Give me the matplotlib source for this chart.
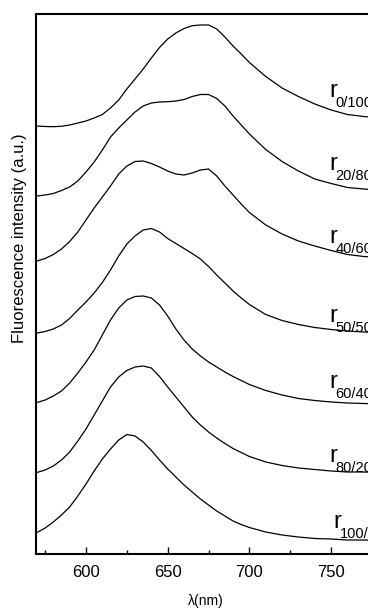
import matplotlib
matplotlib.use("Agg")
import matplotlib.pyplot as plt
from matplotlib.ticker import MultipleLocator

plt.rcParams['font.family'] = ['Liberation Sans', 'DejaVu Sans']

# wavelength grid (nm)
wavelength = [570, 575, 580, 585, 590, 595, 600, 605, 610, 615, 620, 625, 630,
              635, 640, 645, 650, 655, 660, 665, 670, 675, 680, 685, 690, 695,
              700, 710, 720, 730, 740, 750, 760, 770, 780]

# stacked spectra, a.u. (offsets included)
r_0_100 = [428, 427.5, 427.3, 427.7, 429, 431, 433, 436, 439.5, 446, 454, 465,
           475, 485, 496, 506.5, 515, 521, 525.5, 528.3, 529, 529, 525, 517,
           508, 500, 491.5, 477.5, 466, 457.5, 450, 444, 439.5, 437.5, 436]
r_20_80 = [358, 359, 360.5, 363.5, 367, 373, 382, 392, 404, 417, 426, 434, 442,
           448, 451, 452, 452.3, 453, 454.5, 457.5, 459.5, 459.5, 455.5, 448,
           438, 429, 420, 404.5, 392.5, 383, 375, 370.5, 366.5, 365, 364]
r_40_60 = [293, 295.5, 299.5, 305, 312.5, 322, 334, 346, 357, 368, 380, 388,
           392.5, 393, 390.5, 387, 383, 380, 379, 381, 384, 385, 378, 368, 359,
           350, 341.5, 329, 320, 313, 308, 303.5, 299.5, 297.5, 296.5]
r_50_50 = [221, 222.5, 225, 229, 235.5, 244, 252, 261, 271.5, 284, 298, 310,
           318, 324, 325.5, 322, 315.5, 310.5, 305.5, 300.5, 295, 287.5, 279,
           271, 263, 256, 249.5, 239.5, 233.5, 229.5, 226.5, 224.5, 223, 222,
           221.5]
r_60_40 = [151.5, 154, 158, 163, 171, 181, 192, 204, 219, 234, 246, 254, 257.5,
           258, 256, 249, 238, 225, 214, 205, 198, 192, 187, 182, 177.5, 173.5,
           169.5, 163.5, 159, 155.5, 153.5, 152, 151, 150.5, 150]
r_80_20 = [81.5, 84, 88, 94, 102, 113, 125, 139, 153, 167, 177, 183.5, 187, 188,
           186, 177.5, 167, 157, 147, 137, 129, 122, 116, 110.5, 105.5, 101.5,
           97.5, 92, 88.5, 86, 84.5, 83, 82, 82, 81.5]
r_100_0 = [21.5, 26, 32, 39, 47, 58, 70, 83, 95, 105, 114, 119.5, 118, 112,
           103.5, 94, 85, 77, 69, 62, 55, 49, 43, 38, 33, 29.5, 26.5, 22, 19,
           17, 15.5, 15, 14, 14, 13.5]

spectra = [r_0_100, r_20_80, r_40_60, r_50_50, r_60_40, r_80_20, r_100_0]
ratios = ['0/100', '20/80', '40/60', '50/50', '60/40', '80/20', '100/0']
label_x = [749, 749, 749, 749, 749, 749, 751.5]
label_y = [457, 384, 311, 232, 166, 92, 26]

fig = plt.figure(figsize=(3.68, 6.08), dpi=100)
ax = fig.add_axes([36 / 368, 54 / 608, 376.8 / 368, 540 / 608])

for s in spectra:
    ax.plot(wavelength, s, color='black', lw=0.9, solid_joinstyle='round')

# "r" with the ratio as a subscript
for i in range(len(ratios)):
    ax.text(label_x[i], label_y[i], 'r', fontsize=17, va='baseline', ha='left')
    ax.annotate(ratios[i], xy=(label_x[i], label_y[i]), xytext=(4.3, -7),
                textcoords='offset points', fontsize=10.5, va='baseline',
                ha='left')

ax.set_xlim(569.4, 800)
ax.set_ylim(0, 540)
ax.set_xticks([600, 650, 700, 750])
ax.xaxis.set_minor_locator(MultipleLocator(25))
ax.tick_params(axis='x', which='major', direction='in', length=5, width=1.0,
               labelsize=12, pad=8)
ax.tick_params(axis='x', which='minor', direction='in', length=3, width=1.0)
ax.set_yticks([])
for side in ['left', 'bottom', 'top']:
    ax.spines[side].set_linewidth(1.5)
ax.spines['right'].set_visible(False)

ax.set_xlabel('λ(nm)', fontsize=10)
ax.xaxis.set_label_coords((206 - 36) / 376.8, -47 / 540)
ax.xaxis.label.set_va('center')
ax.set_ylabel('Fluorescence intensity (a.u.)', fontsize=12)
ax.yaxis.set_label_coords(-16 / 376.8, (554 - 238) / 540)
ax.yaxis.label.set_va('center')

fig.savefig('out.png', dpi=100)
